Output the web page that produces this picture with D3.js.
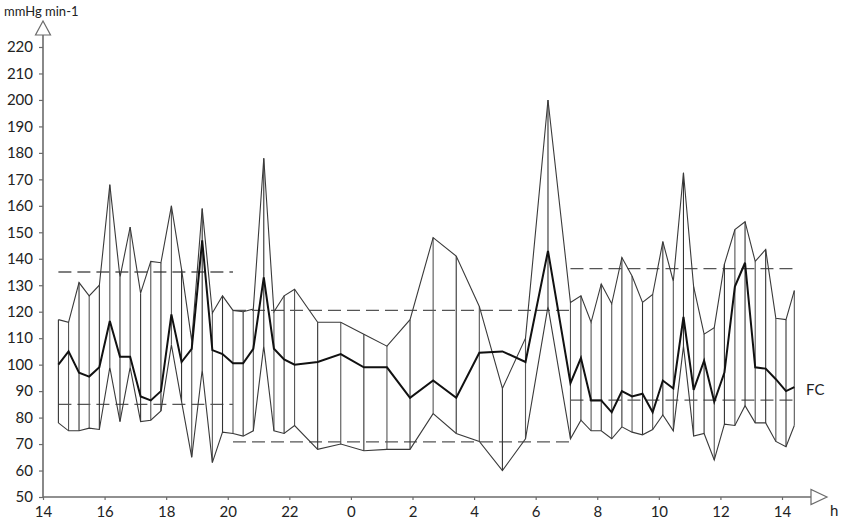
<!DOCTYPE html>
<html>
<head>
<meta charset="utf-8">
<script src="https://cdn.jsdelivr.net/npm/d3@7"></script>
<style>
  html, body { margin: 0; padding: 0; background: #fff; }
  svg { display: block; }
  text { font-family: Lato, "Open Sans", sans-serif; fill: #222; }
</style>
</head>
<body>
<svg id="chart" width="842" height="522"></svg>
<script>
// ---- data (hours counted from midnight of day 1; 24+ = next day) ----
const times = [
  14.50, 14.83, 15.17, 15.50, 15.83, 16.17, 16.50, 16.83, 17.17, 17.50, 17.83, 18.17,
  18.50, 18.83, 19.17, 19.50, 19.83, 20.17, 20.50, 20.83, 21.17, 21.50, 21.83, 22.17,
  22.92, 23.67, 24.42, 25.17, 25.92, 26.67, 27.42, 28.17, 28.92, 29.67, 30.40,
  31.13, 31.47, 31.80, 32.13, 32.47, 32.80, 33.13, 33.47, 33.80, 34.13, 34.47, 34.80,
  35.13, 35.47, 35.80, 36.13, 36.47, 36.80, 37.13, 37.47, 37.80, 38.13, 38.40
];
const systolic = [
  117, 116, 131, 126, 130, 168, 133, 152, 127, 139, 138.5, 160,
  136, 109, 159, 119.5, 126, 120.5, 120, 121, 178, 120, 126, 128.5,
  116, 116, 111.5, 107, 117, 148, 141, 122, 91, 110, 200,
  123.5, 126, 116, 130.5, 123, 140.5, 133.5, 123.5, 126.5, 146.5, 131.5, 172.5,
  129.5, 111.5, 114, 138, 151, 154, 139, 143.5, 117.5, 117, 128
];
const heartRate = [
  100, 105, 97, 95.5, 99, 116.5, 103, 103, 88, 86.5, 90, 119,
  101, 106, 147, 105.5, 104, 100.5, 100.5, 106, 133, 106, 102, 100,
  101, 104, 99, 99, 87.5, 94, 87.5, 104.5, 105, 101, 143,
  93, 102.5, 86.5, 86.5, 82, 90, 88, 89, 82, 94, 91, 118,
  90.5, 101.5, 86, 97, 129.5, 138.5, 99, 98.5, 94.5, 90, 91.5
];
const diastolic = [
  78, 75, 75, 76, 75.5, 99, 78.5, 99, 78.5, 79, 82.5, 107.5,
  86, 65, 98, 63, 74.5, 74, 73, 75, 107, 75, 74, 77,
  68, 70, 67.5, 68, 68, 81.5, 74, 71, 60, 72, 122,
  72, 79, 75, 75, 72, 76.5, 74.5, 73.5, 75.5, 81, 75, 107,
  73, 74, 64, 77.5, 77, 84.5, 78, 78, 71, 69, 77
];
// threshold periods (day / night / day)
const limitStart = [14.5, 20.17, 31.13];
const limitEnd   = [20.17, 31.13, 38.4];
const limitHigh  = [135, 120.5, 136.3];
const limitLow   = [85, 70.8, 86.6];
// axis ticks
const xTickValues = [14, 16, 18, 20, 22, 24, 26, 28, 30, 32, 34, 36, 38];
const xTickLabels = ["14", "16", "18", "20", "22", "0", "2", "4", "6", "8", "10", "12", "14"];
const yTickValues = [50, 60, 70, 80, 90, 100, 110, 120, 130, 140, 150, 160, 170, 180, 190, 200, 210, 220];
const yTitle = "mmHg min-1";
const xTitle = "h";
const seriesLabel = "FC";

// ---- drawing ----
const svg = d3.select("#chart");
const x = d3.scaleLinear().domain([14, 38]).range([43, 782]);
const y = d3.scaleLinear().domain([50, 220]).range([497, 47]);
const axisColor = "#6b6b6b";

// y axis ticks
const yAxis = svg.append("g")
  .attr("transform", `translate(${x(14)},0)`)
  .call(d3.axisLeft(y).tickValues(yTickValues).tickSize(4).tickPadding(6));
yAxis.select(".domain").remove();
yAxis.selectAll(".tick line").attr("stroke", axisColor).attr("stroke-width", 1.2);
yAxis.selectAll(".tick text").style("font-size", "15px").style("font-family", "Lato, sans-serif").attr("fill", "#222");

// x axis ticks
const xAxis = svg.append("g")
  .attr("transform", `translate(0,${y(50)})`)
  .call(d3.axisBottom(x).tickValues(xTickValues)
    .tickFormat((d, i) => xTickLabels[i]).tickSize(3).tickPadding(6));
xAxis.select(".domain").remove();
xAxis.selectAll(".tick line").attr("stroke", axisColor).attr("stroke-width", 1.2);
xAxis.selectAll(".tick text").style("font-size", "15px").style("font-family", "Lato, sans-serif").attr("fill", "#222");

// axis lines with open arrow heads
const x0 = x(14), y0 = y(50);
svg.append("line").attr("x1", x0).attr("y1", y0).attr("x2", x0).attr("y2", 35)
  .attr("stroke", axisColor).attr("stroke-width", 1.6);
svg.append("path").attr("d", `M${x0},21 L${x0 - 7.5},35 L${x0 + 7.5},35 Z`)
  .attr("fill", "#fff").attr("stroke", axisColor).attr("stroke-width", 1.2);
svg.append("line").attr("x1", x0).attr("y1", y0).attr("x2", 811).attr("y2", y0)
  .attr("stroke", axisColor).attr("stroke-width", 1.6);
svg.append("path").attr("d", `M827,${y0} L811,${y0 - 7.5} L811,${y0 + 7.5} Z`)
  .attr("fill", "#fff").attr("stroke", axisColor).attr("stroke-width", 1.2);

svg.append("text").attr("x", 4).attr("y", 16).style("font-size", "13px").text(yTitle);
svg.append("text").attr("x", 830).attr("y", 516).style("font-size", "15px").text(xTitle);

// threshold dashed lines
const limits = limitStart.map((s, i) => ({ s, e: limitEnd[i], hi: limitHigh[i], lo: limitLow[i] }));
const lg = svg.append("g").attr("stroke", "#555").attr("stroke-width", 1.3).attr("stroke-dasharray", "13,6");
limits.forEach(l => {
  [l.hi, l.lo].forEach(v => {
    lg.append("line").attr("x1", x(l.s)).attr("x2", x(l.e)).attr("y1", y(v)).attr("y2", y(v));
  });
});

// vertical bars between systolic and diastolic
const pts = times.map((t, i) => ({ t, s: systolic[i], h: heartRate[i], d: diastolic[i] }));
svg.append("g").selectAll("line").data(pts).join("line")
  .attr("x1", d => x(d.t)).attr("x2", d => x(d.t))
  .attr("y1", d => y(d.s)).attr("y2", d => y(d.d))
  .attr("stroke", (d, i) => i % 2 ? "#555" : "#333").attr("stroke-width", 1.1);

// series lines
const mk = key => d3.line().x(d => x(d.t)).y(d => y(d[key]));
svg.append("path").datum(pts).attr("d", mk("s")).attr("fill", "none").attr("stroke", "#3a3a3a").attr("stroke-width", 1.1);
svg.append("path").datum(pts).attr("d", mk("d")).attr("fill", "none").attr("stroke", "#3a3a3a").attr("stroke-width", 1.1);
svg.append("path").datum(pts).attr("d", mk("h")).attr("fill", "none").attr("stroke", "#111").attr("stroke-width", 2);

svg.append("text").attr("x", 806).attr("y", 395).style("font-size", "15px").text(seriesLabel);
</script>
</body>
</html>
